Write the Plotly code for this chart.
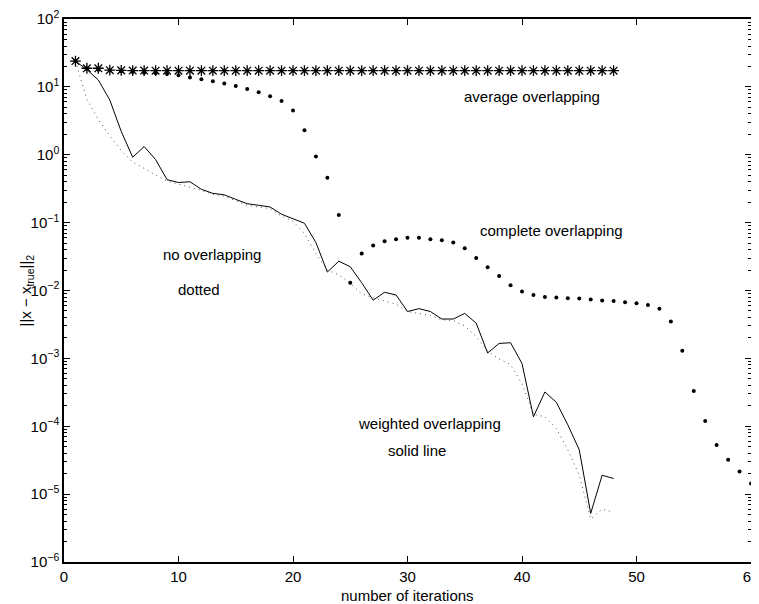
import plotly.graph_objects as go

iters_48 = list(range(1, 49))
iters_60 = list(range(1, 61))

average_overlapping = [24.0, 18.8, 18.8, 17.6, 17.5, 17.4, 17.4, 17.3, 17.3, 17.3,
                       17.3, 17.3, 17.3, 17.3, 17.3, 17.3, 17.3, 17.3, 17.3, 17.3,
                       17.3, 17.3, 17.3, 17.3, 17.3, 17.3, 17.3, 17.3, 17.3, 17.3,
                       17.3, 17.3, 17.3, 17.3, 17.3, 17.3, 17.3, 17.3, 17.3, 17.3,
                       17.3, 17.3, 17.3, 17.3, 17.3, 17.3, 17.3, 17.3]

complete_overlapping = [24.0, 18.5, 17.9, 17.4, 17.0, 16.6, 16.2, 15.9, 15.5, 14.8,
                        13.8, 12.9, 12.1, 11.2, 10.3, 9.3, 8.3, 7.3, 6.2, 4.5,
                        2.3, 0.94, 0.46, 0.13, 0.013, 0.035, 0.046, 0.053, 0.057, 0.060,
                        0.060, 0.057, 0.055, 0.051, 0.042, 0.030, 0.022, 0.0164, 0.012, 0.0097,
                        0.0086, 0.0080, 0.0079, 0.0077, 0.0076, 0.0074, 0.0071, 0.0070, 0.0067, 0.0065,
                        0.0061, 0.0054, 0.0035, 0.0013, 3.3e-4, 1.19e-4, 5.3e-5, 3.2e-5, 2.15e-5, 1.44e-5]

weighted_overlapping = [24.0, 18.0, 12.6, 6.4, 2.2, 0.92, 1.32, 0.85, 0.43, 0.39,
                        0.40, 0.31, 0.27, 0.257, 0.22, 0.19, 0.18, 0.17, 0.133, 0.114,
                        0.098, 0.051, 0.0187, 0.027, 0.0224, 0.013, 0.0072, 0.0094, 0.0086, 0.0049,
                        0.0054, 0.0049, 0.0038, 0.0038, 0.0046, 0.0033, 0.0012, 0.00166, 0.0017, 0.00084,
                        1.38e-4, 3.2e-4, 2.25e-4, 1.05e-4, 4.5e-5, 5.2e-6, 1.9e-5, 1.7e-5]

no_overlapping = [24.0, 6.5, 3.3, 1.9, 1.15, 0.78, 0.63, 0.50, 0.41, 0.37,
                  0.34, 0.30, 0.26, 0.245, 0.21, 0.18, 0.17, 0.16, 0.125, 0.105,
                  0.069, 0.035, 0.020, 0.017, 0.0128, 0.0089, 0.0078, 0.0070, 0.0063, 0.0049,
                  0.0046, 0.0043, 0.0037, 0.0036, 0.0030, 0.0021, 0.00127, 0.00098, 0.00081, 0.00042,
                  1.5e-4, 1.38e-4, 9.3e-5, 4.5e-5, 1.9e-5, 4.3e-6, 6.0e-6, 5.4e-6]

x_ticks = [0, 10, 20, 30, 40, 50, 60]
y_tick_exps = [-6, -5, -4, -3, -2, -1, 0, 1, 2]

FONT = "Liberation Sans, Arial, Helvetica, sans-serif"

fig = go.Figure()
fig.add_trace(go.Scatter(x=iters_48, y=no_overlapping, mode="lines",
                         line=dict(color="#555555", width=1, dash="1px,4px"), showlegend=False))
fig.add_trace(go.Scatter(x=iters_48, y=weighted_overlapping, mode="lines",
                         line=dict(color="black", width=1), showlegend=False))
fig.add_trace(go.Scatter(x=iters_60, y=complete_overlapping, mode="markers",
                         marker=dict(color="black", size=4, symbol="circle"),
                         cliponaxis=False, showlegend=False))
fig.add_trace(go.Scatter(x=iters_48, y=average_overlapping, mode="markers",
                         marker=dict(color="black", size=9, symbol="asterisk-open",
                                     line=dict(color="black", width=1.3)),
                         showlegend=False))

annotations = [
    ("average overlapping", 40.9, 0.851),
    ("complete overlapping", 42.6, -1.118),
    ("no overlapping", 12.9, -1.476),
    ("dotted", 11.76, -1.99),
    ("weighted overlapping", 31.9, -3.955),
    ("solid line", 30.8, -4.36),
]
for txt, ax_, ay_ in annotations:
    fig.add_annotation(x=ax_, y=ay_, xref="x", yref="y", text=txt, showarrow=False,
                       font=dict(family=FONT, size=15, color="black"),
                       xanchor="center", yanchor="middle")

fig.add_annotation(x=0.5, y=0, xref="paper", yref="paper", text="number of iterations",
                   showarrow=False, font=dict(family=FONT, size=15, color="black"),
                   xanchor="center", yanchor="middle", yshift=-33)
fig.add_annotation(x=0, y=0.5, xref="paper", yref="paper",
                   text="||x \u2212 x<sub>true</sub>||<sub>2</sub>",
                   showarrow=False, textangle=-90,
                   font=dict(family=FONT, size=15, color="black"),
                   xanchor="center", yanchor="middle", xshift=-38)

minor_vals = [m * 10.0 ** e for e in y_tick_exps[:-1] for m in range(2, 10)]

fig.update_xaxes(range=[0, 60], tickmode="array", tickvals=x_ticks,
                 ticktext=[str(v) for v in x_ticks],
                 ticks="inside", ticklen=6, tickwidth=1, tickcolor="black",
                 showline=True, linecolor="black", linewidth=1.5, mirror="ticks",
                 showgrid=False, zeroline=False, automargin=False,
                 ticklabeloverflow="allow",
                 tickfont=dict(family=FONT, size=15, color="black"))
fig.update_yaxes(type="log", range=[-6, 2], tickmode="array",
                 tickvals=[10.0 ** e for e in y_tick_exps],
                 ticktext=["10<sup>" + str(e).replace("-", "\u2212") + "</sup>" for e in y_tick_exps],
                 ticks="inside", ticklen=6, tickwidth=1, tickcolor="black",
                 minor=dict(ticks="inside", ticklen=3, tickcolor="black", tickwidth=1,
                            tickmode="array", tickvals=minor_vals, showgrid=False),
                 showline=True, linecolor="black", linewidth=1.5, mirror="ticks",
                 showgrid=False, zeroline=False, automargin=False,
                 ticklabeloverflow="allow",
                 tickfont=dict(family=FONT, size=15, color="black"))

# page body has an 8px margin, so the figure is sized to fit the 759x604 window
fig.update_layout(width=751, height=596,
                  margin=dict(l=56, r=8, t=11, b=42),
                  paper_bgcolor="white", plot_bgcolor="white",
                  font=dict(family=FONT, color="black"))

fig.write_html("out.html")
